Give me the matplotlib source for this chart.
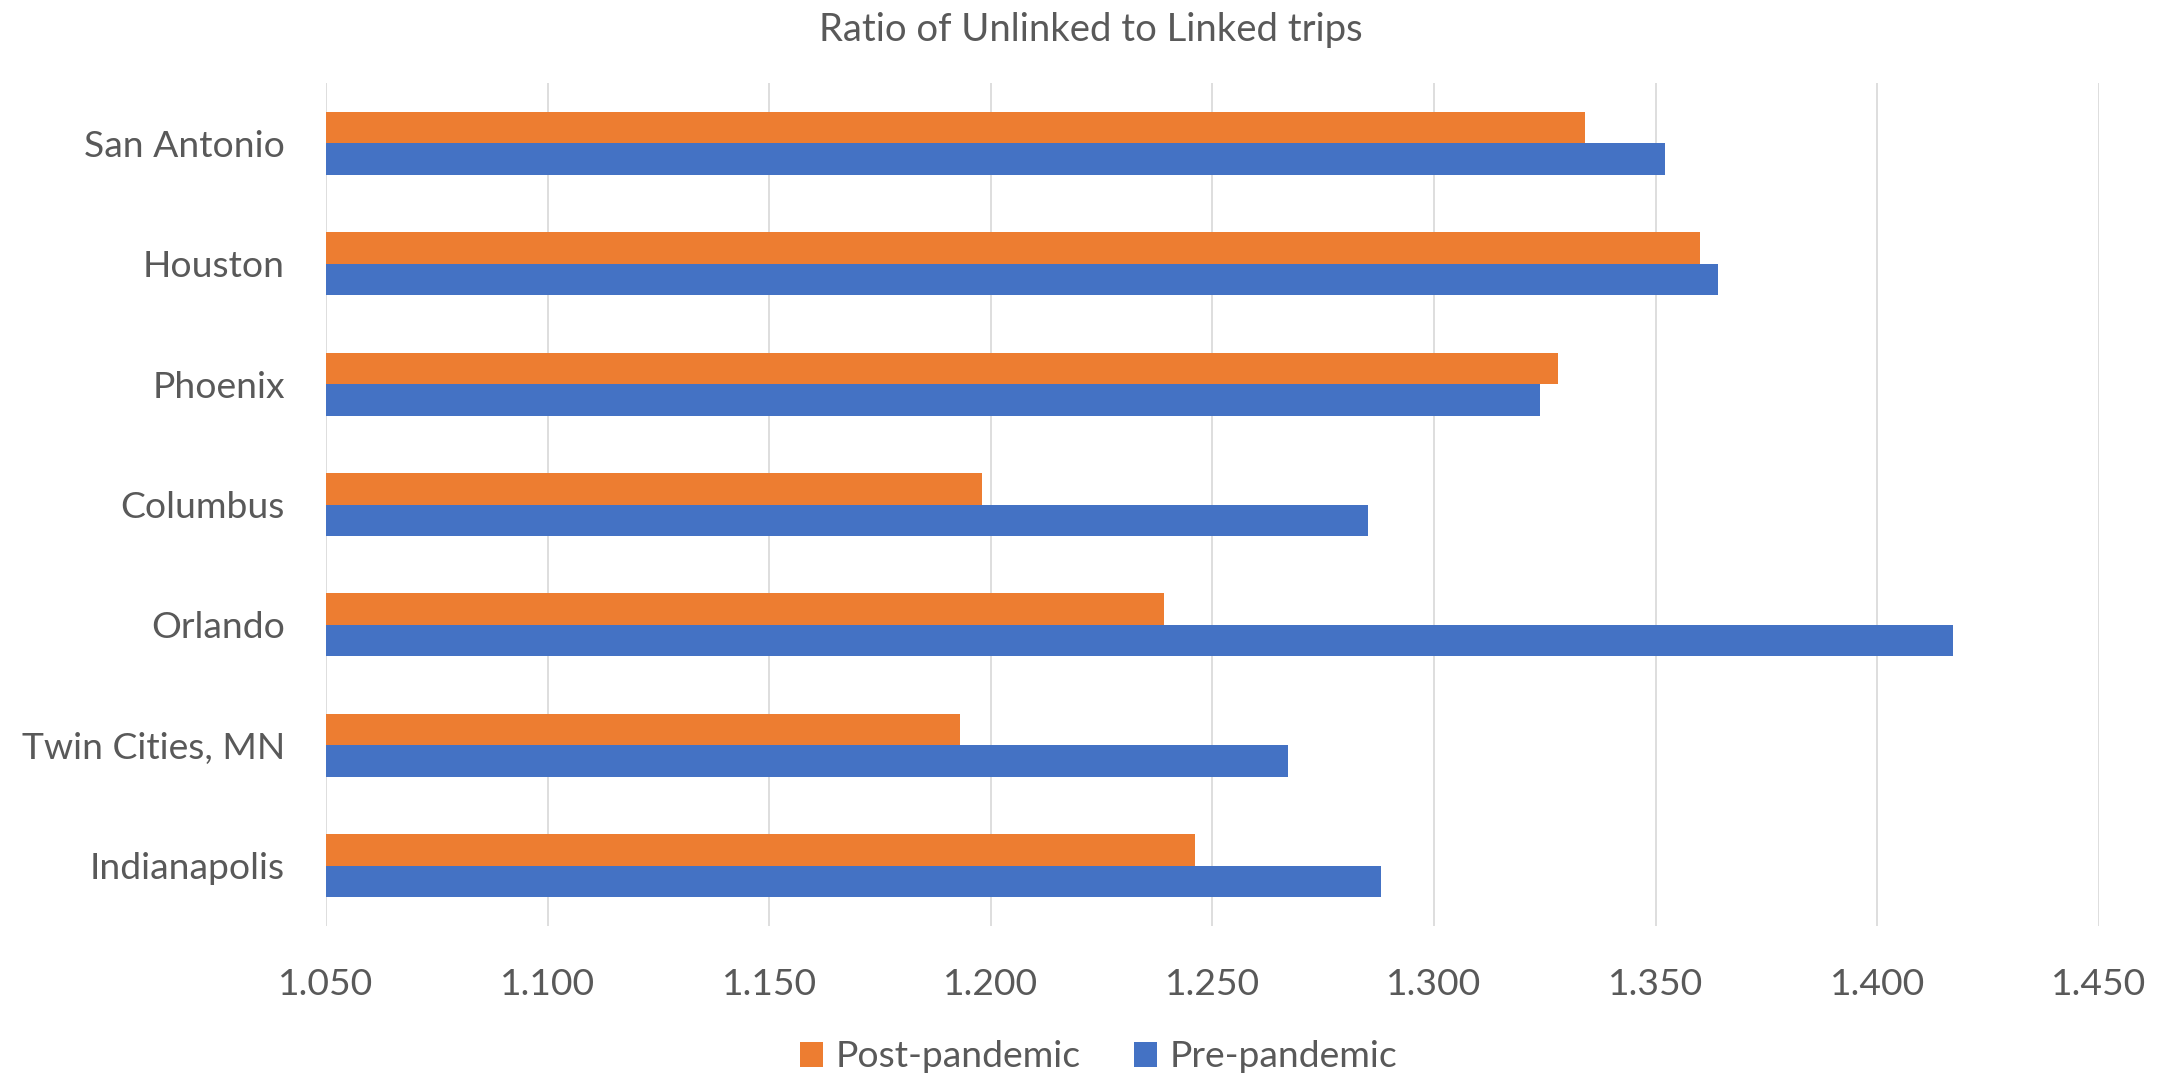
import numpy as np
import matplotlib
matplotlib.use("Agg")
import matplotlib.pyplot as plt
from matplotlib.ticker import FormatStrFormatter

# Dados (de cima para baixo)
cities = ["San Antonio", "Houston", "Phoenix", "Columbus", "Orlando",
          "Twin Cities, MN", "Indianapolis"]
post_pandemic = [1.334, 1.360, 1.328, 1.198, 1.239, 1.193, 1.246]
pre_pandemic = [1.352, 1.364, 1.324, 1.285, 1.417, 1.267, 1.288]
xticks = [1.050, 1.100, 1.150, 1.200, 1.250, 1.300, 1.350, 1.400, 1.450]

plt.rcParams['font.family'] = ['Lato', 'DejaVu Sans']
gray = '#595959'
orange = '#ED7D31'
blue = '#4472C4'

fig = plt.figure(figsize=(21.69, 10.78), dpi=100)
ax = fig.add_axes([0.1503, 0.1410, 0.8174, 0.7820])

# Indianapolis em baixo, San Antonio em cima
y = np.arange(len(cities))[::-1]
h = 0.262
ax.barh(y + h / 2, post_pandemic, height=h, color=orange,
        label='Post-pandemic', zorder=3)
ax.barh(y - h / 2, pre_pandemic, height=h, color=blue,
        label='Pre-pandemic', zorder=3)

ax.set_xlim(1.05, 1.45)
ax.set_ylim(-0.5, len(cities) - 0.5)
ax.set_xticks(xticks)
ax.xaxis.set_major_formatter(FormatStrFormatter('%.3f'))
ax.set_yticks(y)
ax.set_yticklabels(cities)
ax.tick_params(axis='both', length=0, labelsize=26.8, colors=gray)
ax.tick_params(axis='x', pad=30)
ax.tick_params(axis='y', pad=29.5)
ax.grid(axis='x', color='#D9D9D9', linewidth=1.25, zorder=0)
ax.set_axisbelow(True)
for s in ax.spines.values():
    s.set_visible(False)

fig.text(0.503, 1 - 30 / 1078, 'Ratio of Unlinked to Linked trips',
         ha='center', va='center', fontsize=27.5, color=gray)

leg = fig.legend(loc='center', bbox_to_anchor=(0.5065, 0.0195), ncol=2,
                 frameon=False, fontsize=26.8, handlelength=0.63,
                 handleheight=0.63, handletextpad=0.33, columnspacing=1.43,
                 borderpad=0, borderaxespad=0)
for t in leg.get_texts():
    t.set_color(gray)

fig.savefig('out.png', dpi=100)
